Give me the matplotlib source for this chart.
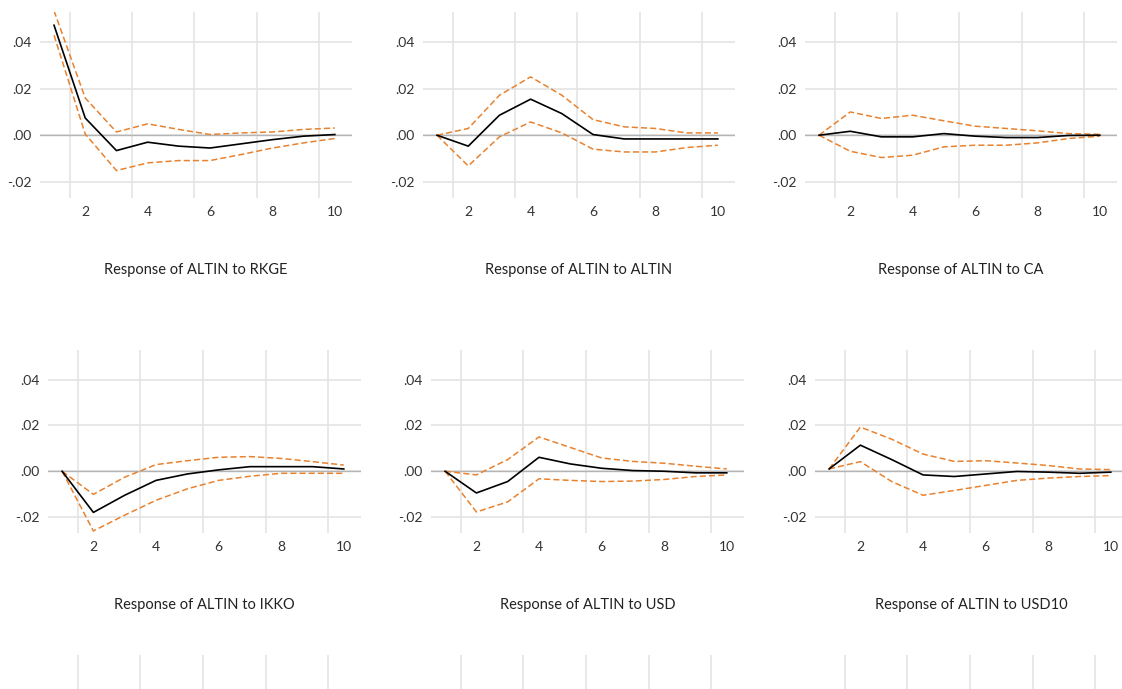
import matplotlib.pyplot as plt

# impulse responses of ALTIN, period 1..10
periods = [1, 2, 3, 4, 5, 6, 7, 8, 9, 10]
shocks = ["RKGE", "ALTIN", "CA", "IKKO", "USD", "USD10"]

rkge_resp = [0.0473, 0.0074, -0.0066, -0.0030, -0.0047, -0.0055, -0.0037, -0.0019, -0.0004, 0.0003]
rkge_up = [0.0535, 0.0160, 0.0014, 0.0049, 0.0025, 0.0003, 0.0010, 0.0014, 0.0025, 0.0031]
rkge_lo = [0.0430, 0.0005, -0.0152, -0.0119, -0.0109, -0.0109, -0.0083, -0.0055, -0.0033, -0.0014]

altin_resp = [0.0, -0.0047, 0.0086, 0.0155, 0.0093, 0.0003, -0.0016, -0.0016, -0.0016, -0.0016]
altin_up = [0.0, 0.0029, 0.0172, 0.0251, 0.0172, 0.0067, 0.0036, 0.0029, 0.0010, 0.0010]
altin_lo = [0.0, -0.0132, -0.0007, 0.0057, 0.0010, -0.0060, -0.0072, -0.0072, -0.0053, -0.0043]

ca_resp = [0.0, 0.0017, -0.0007, -0.0007, 0.0007, -0.0004, -0.0010, -0.0010, -0.0001, 0.0]
ca_up = [0.0, 0.0100, 0.0072, 0.0086, 0.0062, 0.0039, 0.0029, 0.0019, 0.0007, 0.0004]
ca_lo = [0.0, -0.0069, -0.0096, -0.0086, -0.0050, -0.0043, -0.0043, -0.0033, -0.0014, -0.0004]

ikko_resp = [0.0, -0.0180, -0.0105, -0.0040, -0.0012, 0.0006, 0.0020, 0.0020, 0.0020, 0.0010]
ikko_up = [0.0, -0.0101, -0.0026, 0.0029, 0.0046, 0.0061, 0.0064, 0.0056, 0.0042, 0.0027]
ikko_lo = [0.0, -0.0261, -0.0192, -0.0127, -0.0077, -0.0040, -0.0022, -0.0009, -0.0009, -0.0009]

usd_resp = [0.0, -0.0095, -0.0045, 0.0061, 0.0032, 0.0013, 0.0003, 0.0, -0.0007, -0.0007]
usd_up = [0.0, -0.0016, 0.0051, 0.0150, 0.0104, 0.0058, 0.0043, 0.0035, 0.0022, 0.0010]
usd_lo = [0.0, -0.0178, -0.0134, -0.0033, -0.0040, -0.0045, -0.0043, -0.0036, -0.0023, -0.0016]

usd10_resp = [0.0010, 0.0114, 0.0051, -0.0016, -0.0023, -0.0012, -0.0001, -0.0004, -0.0009, -0.0004]
usd10_up = [0.0010, 0.0193, 0.0140, 0.0075, 0.0043, 0.0046, 0.0036, 0.0025, 0.0010, 0.0007]
usd10_lo = [0.0010, 0.0042, -0.0045, -0.0105, -0.0084, -0.0062, -0.0040, -0.0030, -0.0023, -0.0019]

responses = [rkge_resp, altin_resp, ca_resp, ikko_resp, usd_resp, usd10_resp]
uppers = [rkge_up, altin_up, ca_up, ikko_up, usd_up, usd10_up]
lowers = [rkge_lo, altin_lo, ca_lo, ikko_lo, usd_lo, usd10_lo]

xlabels = ["2", "4", "6", "8", "10"]
yticks = [-0.02, 0.0, 0.02, 0.04]
ylabels = ["-.02", ".00", ".02", ".04"]

plt.rcParams['font.family'] = ['Lato', 'DejaVu Sans']

W, H = 1122, 689
fig = plt.figure(figsize=(W / 100, H / 100), dpi=100)

orange = '#e8822f'
grid_col = '#e4e4e4'


def px_axes(left, top, width, height):
    return fig.add_axes([left / W, 1 - (top + height) / H, width / W, height / H])


def style_axes(ax):
    ax.set_xlim(0.55, 10.55)
    ax.set_ylim(-0.027, 0.053)
    ax.set_xticks([2, 4, 6, 8, 10])
    ax.set_xticklabels(xlabels)
    ax.set_xticks([1.5, 3.5, 5.5, 7.5, 9.5], minor=True)
    ax.set_yticks(yticks)
    ax.set_yticklabels(ylabels)
    ax.grid(axis='x', which='minor', color=grid_col, lw=1.2)
    ax.grid(axis='y', which='major', color=grid_col, lw=1.2)
    ax.tick_params(which='both', length=0, labelsize=10, colors='#333333')
    ax.tick_params(axis='y', pad=6)
    ax.tick_params(axis='x', pad=6)
    for s in ax.spines.values():
        s.set_visible(False)
    ax.set_axisbelow(True)


lefts_top = [40, 423, 805]
lefts_bot = [48, 431, 815]

for i in range(6):
    if i < 3:
        ax = px_axes(lefts_top[i], 12, 312, 186)
        h = 186
    else:
        ax = px_axes(lefts_bot[i - 3], 350, 313, 183)
        h = 183
    style_axes(ax)
    ax.axhline(0, color='#b4b4b4', lw=1)
    ax.plot(periods, uppers[i], color=orange, ls=(0, (4, 2)), lw=1.1)
    ax.plot(periods, lowers[i], color=orange, ls=(0, (4, 2)), lw=1.1)
    ax.plot(periods, responses[i], color='black', lw=1.2)
    ax.text(0.5, -72 / h, "Response of ALTIN to " + shocks[i], transform=ax.transAxes,
            ha='center', va='center', fontsize=10.5, color='#222222')

# third row is cut off at the bottom of the picture
for left in lefts_bot:
    ax = px_axes(left, 655, 313, 183)
    style_axes(ax)
    ax.set_xticklabels([])
    ax.set_yticklabels([])
    ax.grid(axis='y', which='major', visible=False)

fig.savefig("out.png", dpi=100)
